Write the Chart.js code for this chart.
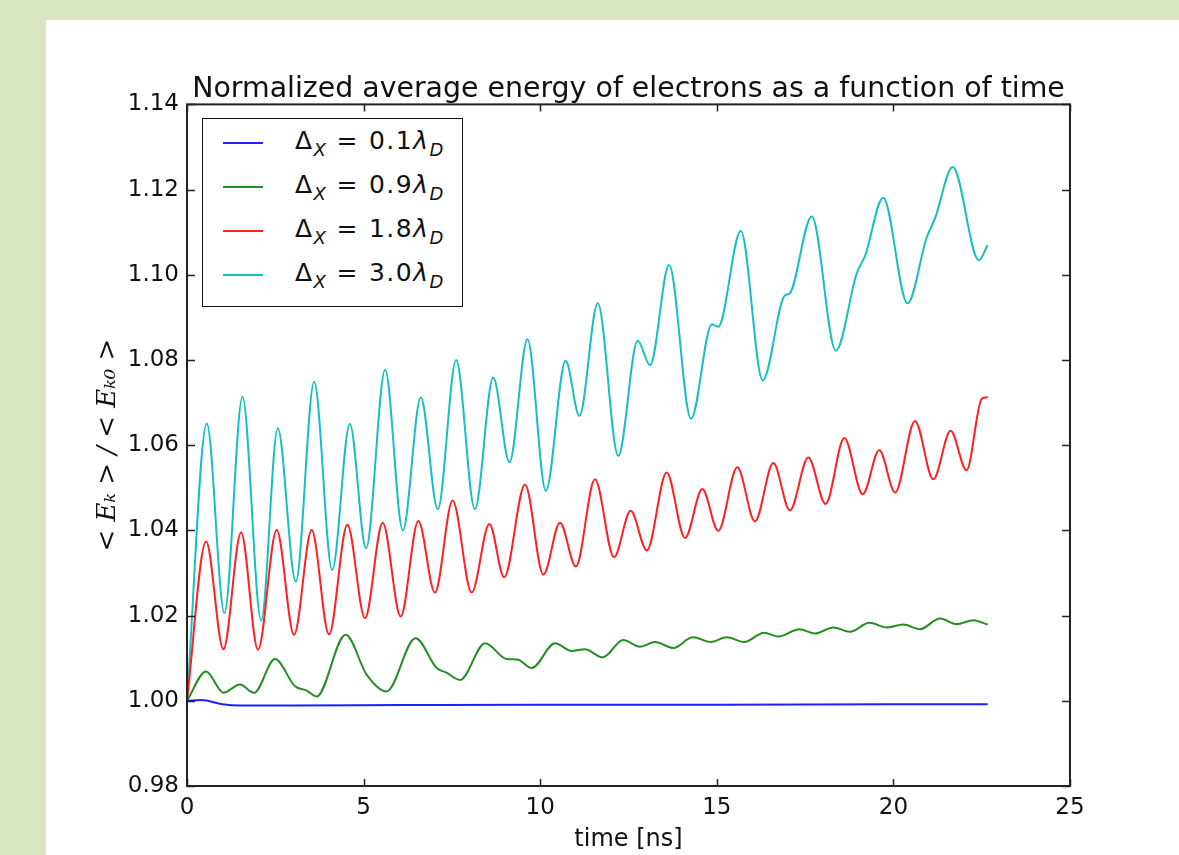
<!DOCTYPE html>
<html>
<head>
<meta charset="utf-8">
<script src="https://cdn.jsdelivr.net/npm/chart.js@4.4.0/dist/chart.umd.min.js"></script>
<style>
  body { margin: 0; width: 1179px; height: 855px; overflow: hidden; background: #d9e4c1; font-family: 'DejaVu Sans', sans-serif; }
  #panel { position: absolute; left: 46px; top: 20px; right: 0; bottom: 0; background: #fff; }
  #myChart { position: absolute; left: 0; top: 0; }
  #legend { position: absolute; left: 202px; top: 118px; width: 259px; height: 187px; border: 1.5px solid #111; background: #fff; }
  #legend .line { position: absolute; left: 20px; width: 40px; height: 2px; }
  #legend .label { position: absolute; left: 92px; font-size: 25px; letter-spacing: 1.5px; line-height: 30px; color: #111; white-space: nowrap; }
  #legend .eq { margin: 0 10px 0 9px; }
  #legend sub { font-size: 72%; vertical-align: -0.4em; line-height: 0; }
</style>
</head>
<body>
<div id="panel"></div>
<canvas id="myChart" width="1179" height="855"></canvas>
<div id="legend"></div>
<script>
  // espaçamento da malha (em unidades de lambda_D)
  const dxLabels = ['0.1', '0.9', '1.8', '3.0'];
  const colors = ['#1f1fff', '#238f23', '#ff2020', '#17c0c0'];

  // tempo [ns] e energia normalizada
  const t01 = [0, 0.4, 1.0, 1.5, 3, 6, 10, 15, 20, 22.67];
  const e01 = [1.000, 1.0002, 0.9992, 0.9989, 0.9989, 0.9990, 0.9991, 0.9991, 0.9992, 0.9992];

  const t09 = [0, 0.54, 1.03, 1.50, 1.90, 2.49, 3.06, 3.39, 3.67, 4.49, 5.09, 5.65, 6.47, 7.07, 7.35, 7.73,
    8.44, 9.05, 9.35, 9.76, 10.42, 10.89, 11.27, 11.77, 12.35, 12.83, 13.25, 13.77, 14.32, 14.83, 15.28,
    15.77, 16.34, 16.74, 17.34, 17.78, 18.30, 18.77, 19.32, 19.81, 20.28, 20.75, 21.32, 21.79, 22.26, 22.67];
  const e09 = [1.000, 1.0069, 1.0019, 1.0038, 1.0019, 1.0098, 1.0034, 1.0024, 1.0010, 1.0155, 1.0061, 1.0022,
    1.0147, 1.0077, 1.0066, 1.0049, 1.0135, 1.0098, 1.0097, 1.0077, 1.0135, 1.0117, 1.0121, 1.0102, 1.0143,
    1.0127, 1.0138, 1.0124, 1.0149, 1.0138, 1.0149, 1.0138, 1.0160, 1.0151, 1.0168, 1.0158, 1.0172, 1.0162,
    1.0183, 1.0172, 1.0179, 1.0168, 1.0193, 1.0180, 1.0189, 1.0179];

  const t18 = [0, 0.54, 1.03, 1.53, 2.01, 2.54, 3.03, 3.53, 4.02, 4.54, 5.04, 5.54, 6.05, 6.55, 7.02, 7.52,
    8.06, 8.56, 8.98, 9.57, 10.09, 10.56, 11.01, 11.55, 12.09, 12.56, 13.02, 13.58, 14.10, 14.59, 15.04,
    15.58, 16.08, 16.60, 17.07, 17.59, 18.08, 18.61, 19.13, 19.60, 20.05, 20.61, 21.13, 21.62, 22.07, 22.50, 22.67];
  const e18 = [1.000, 1.0374, 1.0121, 1.0395, 1.0120, 1.0401, 1.0155, 1.0401, 1.0156, 1.0413, 1.0194, 1.0418,
    1.0198, 1.0422, 1.0254, 1.0470, 1.0254, 1.0415, 1.0290, 1.0508, 1.0296, 1.0418, 1.0315, 1.0520, 1.0337,
    1.0446, 1.0353, 1.0536, 1.0382, 1.0497, 1.0399, 1.0548, 1.0421, 1.0558, 1.0447, 1.0571, 1.0462, 1.0617,
    1.0485, 1.0588, 1.0489, 1.0657, 1.0520, 1.0634, 1.0541, 1.0709, 1.0713];

  const t30 = [0, 0.56, 1.06, 1.57, 2.10, 2.57, 3.08, 3.60, 4.11, 4.61, 5.07, 5.61, 6.11, 6.62, 7.10, 7.62,
    8.15, 8.67, 9.13, 9.64, 10.16, 10.72, 11.11, 11.63, 12.21, 12.76, 13.11, 13.65, 14.27, 14.86, 15.04,
    15.68, 16.30, 16.93, 17.05, 17.69, 18.37, 18.96, 19.20, 19.71, 20.40, 20.94, 21.18, 21.68, 22.42, 22.67];
  const e30 = [1.000, 1.0651, 1.0206, 1.0714, 1.0188, 1.0640, 1.0280, 1.0749, 1.0307, 1.0650, 1.0358, 1.0777,
    1.0400, 1.0712, 1.0450, 1.0800, 1.0450, 1.0759, 1.0560, 1.0849, 1.0493, 1.0798, 1.0669, 1.0933, 1.0575,
    1.0845, 1.0788, 1.1023, 1.0662, 1.0884, 1.0878, 1.1103, 1.0752, 1.0952, 1.0955, 1.1137, 1.0822, 1.1003,
    1.1045, 1.1181, 1.0933, 1.1087, 1.1133, 1.1253, 1.1034, 1.1070];

  const xTicks = [0, 5, 10, 15, 20, 25];
  const yTicks = [0.98, 1.00, 1.02, 1.04, 1.06, 1.08, 1.10, 1.12, 1.14];

  const series = [[t01, e01], [t09, e09], [t18, e18], [t30, e30]];

  const pontos = (t, e) => t.map((x, i) => ({ x: x, y: e[i] }));

  // moldura com ticks para dentro, nos quatro lados
  const moldura = {
    id: 'moldura',
    afterDraw(chart) {
      const { ctx, chartArea: a, scales: { x, y } } = chart;
      ctx.save();
      ctx.strokeStyle = '#222';
      ctx.lineWidth = 1.5;
      ctx.beginPath();
      xTicks.forEach(v => {
        const px = Math.round(x.getPixelForValue(v)) + 0.5;
        ctx.moveTo(px, a.bottom); ctx.lineTo(px, a.bottom - 7);
        ctx.moveTo(px, a.top); ctx.lineTo(px, a.top + 7);
      });
      yTicks.forEach(v => {
        const py = Math.round(y.getPixelForValue(v)) + 0.5;
        ctx.moveTo(a.left, py); ctx.lineTo(a.left + 8, py);
        ctx.moveTo(a.right, py); ctx.lineTo(a.right - 8, py);
      });
      ctx.stroke();
      ctx.lineWidth = 2;
      ctx.strokeRect(a.left, a.top, a.right - a.left, a.bottom - a.top);
      ctx.restore();
    }
  };

  Chart.defaults.font.family = "'DejaVu Sans', sans-serif";
  Chart.defaults.color = '#111';

  const config = {
    type: 'line',
    data: {
      datasets: series.map((s, i) => ({
        label: 'ΔX = ' + dxLabels[i] + 'λD',
        data: pontos(s[0], s[1]),
        borderColor: colors[i],
        borderWidth: 2,
        pointRadius: 0,
        fill: false,
        cubicInterpolationMode: 'monotone',
      })),
    },
    options: {
      responsive: false,
      animation: false,
      devicePixelRatio: 1,
      layout: { padding: { left: 0, right: 109, top: 0, bottom: 0 } },
      plugins: {
        legend: { display: false },
        tooltip: { enabled: false },
        title: {
          display: true,
          fullSize: false,
          text: 'Normalized average energy of electrons as a function of time',
          font: { size: 28.4, weight: 'normal', lineHeight: 1 },
          color: '#111',
          padding: { top: 75, bottom: 1 },
        },
      },
      scales: {
        x: {
          type: 'linear',
          min: 0,
          max: 25,
          afterBuildTicks: s => { s.ticks = xTicks.map(v => ({ value: v })); },
          afterFit: s => { s.height = 69; },
          ticks: { font: { size: 23 }, padding: 0, maxRotation: 0 },
          grid: { display: false },
          border: { display: false },
          title: { display: true, text: 'time [ns]', font: { size: 24 }, padding: { top: 0, bottom: 1 } },
        },
        y: {
          type: 'linear',
          min: 0.98,
          max: 1.14,
          afterBuildTicks: s => { s.ticks = yTicks.map(v => ({ value: v })); },
          afterFit: s => { s.width = 187; },
          ticks: { font: { size: 23 }, padding: 0, callback: v => v.toFixed(2) },
          grid: { display: false },
          border: { display: false },
          title: {
            display: true,
            text: '< Eₖ > / < Eₖ₀ >',
            font: { size: 26, family: "'DejaVu Serif', serif", style: 'italic' },
            padding: { top: 93, bottom: 0 },
          },
        },
      },
    },
    plugins: [moldura],
  };

  const ctx = document.getElementById('myChart').getContext('2d');
  const myChart = new Chart(ctx, config);

  // legenda em HTML, com subscritos
  const legend = document.getElementById('legend');
  myChart.data.datasets.forEach((ds, i) => {
    const y = 24 + 44 * i;
    const line = document.createElement('div');
    line.className = 'line';
    line.style.top = (y - 1) + 'px';
    line.style.background = ds.borderColor;
    legend.appendChild(line);
    const label = document.createElement('div');
    label.className = 'label';
    label.style.top = (y - 17) + 'px';
    label.innerHTML = 'Δ<sub><i>X</i></sub><span class="eq">=</span>' + dxLabels[i] + '<i>λ</i><sub><i>D</i></sub>';
    legend.appendChild(label);
  });
</script>
</body>
</html>
